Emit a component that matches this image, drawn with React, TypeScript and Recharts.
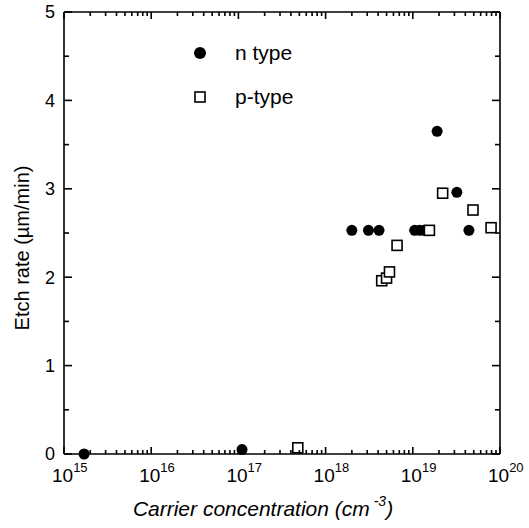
import React from 'react';
import { ScatterChart, Scatter, XAxis, YAxis } from 'recharts';

// n type (filled circles)
const nConc = [1.7e15, 1.1e17, 2.0e18, 3.1e18, 4.1e18, 1.05e19, 1.2e19, 1.35e19, 1.9e19, 3.2e19, 4.4e19];
const nRate = [0, 0.05, 2.53, 2.53, 2.53, 2.53, 2.53, 2.53, 3.65, 2.96, 2.53];

// p-type (open squares)
const pConc = [4.8e17, 4.4e18, 5.0e18, 5.4e18, 6.6e18, 1.55e19, 2.2e19, 4.9e19, 7.9e19];
const pRate = [0.07, 1.96, 1.99, 2.06, 2.36, 2.53, 2.95, 2.76, 2.56];

const decades = [15, 16, 17, 18, 19, 20];
const yTicks = [0, 0.5, 1, 1.5, 2, 2.5, 3, 3.5, 4, 4.5, 5];

const xTicks: number[] = [];
decades.forEach((d) => {
  if (d === 20) {
    xTicks.push(1e20);
    return;
  }
  for (let k = 1; k < 10; k++) xTicks.push(k * Math.pow(10, d));
});

const nData = nConc.map((x, i) => ({ x, y: nRate[i] }));
const pData = pConc.map((x, i) => ({ x, y: pRate[i] }));

const FONT = '"Liberation Sans", Arial, sans-serif';

const isDecade = (v: number) => {
  const l = Math.log10(v);
  return Math.abs(l - Math.round(l)) < 1e-6;
};

const BottomTick = (props: any) => {
  const { x, y, payload } = props;
  const v = payload.value;
  const major = isDecade(v);
  const len = major ? 7 : 4;
  return (
    <g>
      <path d={`M${x},${y}L${x},${y - len}`} stroke="#000" strokeWidth={1.6} fill="none" />
      {major && (
        <text x={x - 12} y={y + 28} fontFamily={FONT} fontSize={19} fill="#000">
          10
          <tspan dy={-10} fontSize={13}>
            {Math.round(Math.log10(v))}
          </tspan>
        </text>
      )}
    </g>
  );
};

const TopTick = (props: any) => {
  const { x, y, payload } = props;
  const len = isDecade(payload.value) ? 7 : 4;
  return <path d={`M${x},${y}L${x},${y + len}`} stroke="#000" strokeWidth={1.6} fill="none" />;
};

const LeftTick = (props: any) => {
  const { x, y, payload } = props;
  const v = payload.value;
  const major = Number.isInteger(v);
  const len = major ? 8 : 5;
  return (
    <g>
      <path d={`M${x},${y}L${x + len},${y}`} stroke="#000" strokeWidth={1.6} fill="none" />
      {major && (
        <text x={x - 9} y={y} dy="0.35em" textAnchor="end" fontFamily={FONT} fontSize={18} fill="#000">
          {v}
        </text>
      )}
    </g>
  );
};

const RightTick = (props: any) => {
  const { x, y, payload } = props;
  const len = Number.isInteger(payload.value) ? 8 : 5;
  return <path d={`M${x},${y}L${x - len},${y}`} stroke="#000" strokeWidth={1.6} fill="none" />;
};

const Dot = (props: any) => <circle cx={props.cx} cy={props.cy} r={5.5} fill="#000" />;
const Box = (props: any) => (
  <rect x={props.cx - 5} y={props.cy - 5} width={10} height={10} fill="#fff" stroke="#000" strokeWidth={1.6} />
);
const Nothing = () => <g />;

const LegendBox = () => (
  <div style={{ position: 'absolute', left: 190, top: 31, fontFamily: FONT, fontSize: 21, color: '#000' }}>
    <div style={{ display: 'flex', alignItems: 'center', height: 44 }}>
      <svg width={45} height={20}>
        <circle cx={10} cy={10} r={6} fill="#000" />
      </svg>
      <span>n type</span>
    </div>
    <div style={{ display: 'flex', alignItems: 'center', height: 44 }}>
      <svg width={45} height={20}>
        <rect x={5} y={5} width={10} height={10} fill="#fff" stroke="#000" strokeWidth={1.6} />
      </svg>
      <span>p-type</span>
    </div>
  </div>
);

export default function App() {
  return (
    <div style={{ position: 'absolute', left: 0, top: 0, width: 529, height: 528, background: '#fff' }}>
      <ScatterChart width={529} height={528} margin={{ top: 11, right: 28, bottom: 73, left: 63 }}>
        <XAxis
          xAxisId="b"
          dataKey="x"
          type="number"
          scale="log"
          domain={[1e15, 1e20]}
          allowDataOverflow
          ticks={xTicks}
          interval={0}
          height={1}
          tickSize={0}
          tickMargin={0}
          tickLine={false}
          axisLine={{ stroke: '#000', strokeWidth: 1.6 }}
          tick={<BottomTick />}
          label={{
            position: 'bottom',
            content: () => (
              <text x={263} y={516} textAnchor="middle" fontFamily={FONT} fontSize={21} fontStyle="italic" fill="#000">
                Carrier concentration (cm
                <tspan dy={-10} fontSize={14}> -3</tspan>
                <tspan dy={10}>)</tspan>
              </text>
            ),
          }}
        />
        <XAxis
          xAxisId="t"
          orientation="top"
          dataKey="x"
          type="number"
          scale="log"
          domain={[1e15, 1e20]}
          allowDataOverflow
          ticks={xTicks}
          interval={0}
          height={1}
          tickSize={0}
          tickMargin={0}
          tickLine={false}
          axisLine={{ stroke: '#000', strokeWidth: 1.6 }}
          tick={<TopTick />}
        />
        <YAxis
          yAxisId="l"
          dataKey="y"
          type="number"
          domain={[0, 5]}
          ticks={yTicks}
          interval={0}
          width={1}
          tickSize={0}
          tickMargin={0}
          tickLine={false}
          axisLine={{ stroke: '#000', strokeWidth: 1.6 }}
          tick={<LeftTick />}
          label={{
            position: 'left',
            content: () => (
              <text
                x={22}
                y={248}
                transform="rotate(-90 22 248)"
                dy="0.35em"
                textAnchor="middle"
                fontFamily={FONT}
                fontSize={20}
                fill="#000"
              >
                Etch rate (µm/min)
              </text>
            ),
          }}
        />
        <YAxis
          yAxisId="r"
          orientation="right"
          dataKey="y"
          type="number"
          domain={[0, 5]}
          ticks={yTicks}
          interval={0}
          width={1}
          tickSize={0}
          tickMargin={0}
          tickLine={false}
          axisLine={{ stroke: '#000', strokeWidth: 1.6 }}
          tick={<RightTick />}
        />
        {/* invisible series so the top / right frame axes get scales and ticks */}
        <Scatter data={nData} xAxisId="t" yAxisId="r" shape={<Nothing />} isAnimationActive={false} />
        <Scatter name="n type" data={nData} xAxisId="b" yAxisId="l" shape={<Dot />} isAnimationActive={false} />
        <Scatter name="p-type" data={pData} xAxisId="b" yAxisId="l" shape={<Box />} isAnimationActive={false} />
      </ScatterChart>
      <LegendBox />
    </div>
  );
}
